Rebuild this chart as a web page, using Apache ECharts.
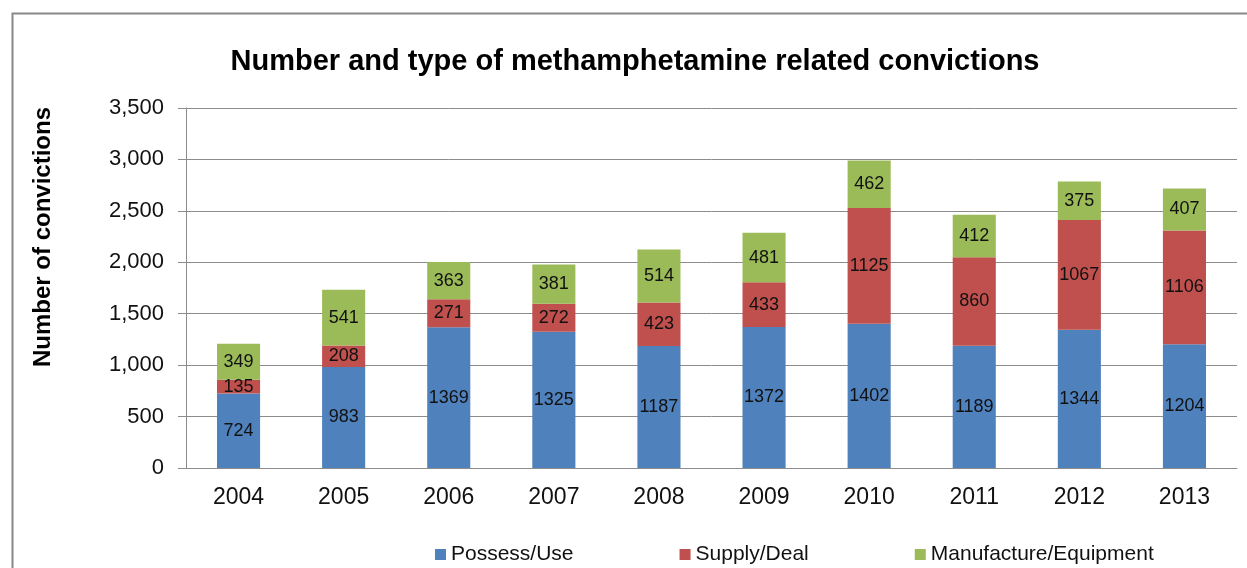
<!DOCTYPE html>
<html>
<head>
<meta charset="utf-8">
<script src="https://cdn.jsdelivr.net/npm/echarts@6/dist/echarts.min.js"></script>
<style>
html,body{margin:0;padding:0;background:#fff;}
#c{width:1247px;height:568px;}
</style>
</head>
<body>
<div id="c"></div>
<script>
const years = ['2004','2005','2006','2007','2008','2009','2010','2011','2012','2013'];
const possessUse = [724, 983, 1369, 1325, 1187, 1372, 1402, 1189, 1344, 1204];
const supplyDeal = [135, 208, 271, 272, 423, 433, 1125, 860, 1067, 1106];
const manufactureEquipment = [349, 541, 363, 381, 514, 481, 462, 412, 375, 407];

const FONT = 'Liberation Sans, Arial, sans-serif';
const chart = echarts.init(document.getElementById('c'));

function mkSeries(name, data, color) {
  return {
    name: name,
    type: 'bar',
    stack: 'total',
    data: data,
    barWidth: '41%',
    itemStyle: { color: color },
    label: {
      show: true,
      position: 'inside',
      color: '#111',
      fontFamily: FONT,
      fontSize: 18
    }
  };
}

chart.setOption({
  animation: false,
  backgroundColor: '#fff',
  title: {
    text: 'Number and type of methamphetamine related convictions',
    left: 630,
    textAlign: 'center',
    top: 42,
    textStyle: { fontFamily: FONT, fontWeight: 'bold', fontSize: 29, color: '#000' }
  },
  graphic: [
    {
      type: 'rect',
      left: 10, top: 11,
      shape: { width: 1300, height: 600 },
      style: { fill: 'none', stroke: '#888', lineWidth: 2 },
      silent: true
    },
    {
      type: 'text',
      x: 43, y: 237,
      rotation: Math.PI / 2,
      style: {
        text: 'Number of convictions',
        fontFamily: FONT, fontWeight: 'bold', fontSize: 24, fill: '#000',
        align: 'center', verticalAlign: 'middle'
      }
    }
  ],
  legend: {
    left: 430,
    top: 539,
    itemWidth: 11,
    itemHeight: 11,
    itemGap: 106,
    icon: 'rect',
    textStyle: { fontFamily: FONT, fontSize: 21, color: '#111' },
    data: ['Possess/Use', 'Supply/Deal', 'Manufacture/Equipment']
  },
  grid: { left: 186, right: 10, top: 108, bottom: 100, containLabel: false },
  xAxis: {
    type: 'category',
    data: years,
    axisLine: { lineStyle: { color: '#8c8c8c', width: 1 } },
    axisTick: { show: false },
    axisLabel: { fontFamily: FONT, fontSize: 23, color: '#111', margin: 18 }
  },
  yAxis: {
    type: 'value',
    min: 0, max: 3500, interval: 500,
    axisLine: { show: true, lineStyle: { color: '#8c8c8c' } },
    axisTick: { show: true, length: 8, inside: false, lineStyle: { color: '#8c8c8c' } },
    splitLine: { lineStyle: { color: '#8c8c8c', width: 1 } },
    axisLabel: {
      fontFamily: FONT, fontSize: 22, color: '#111', margin: 22,
      formatter: v => v.toLocaleString('en-US')
    }
  },
  series: [
    mkSeries('Possess/Use', possessUse, '#4F81BD'),
    mkSeries('Supply/Deal', supplyDeal, '#C0504D'),
    mkSeries('Manufacture/Equipment', manufactureEquipment, '#9BBB59')
  ]
});
</script>
</body>
</html>
